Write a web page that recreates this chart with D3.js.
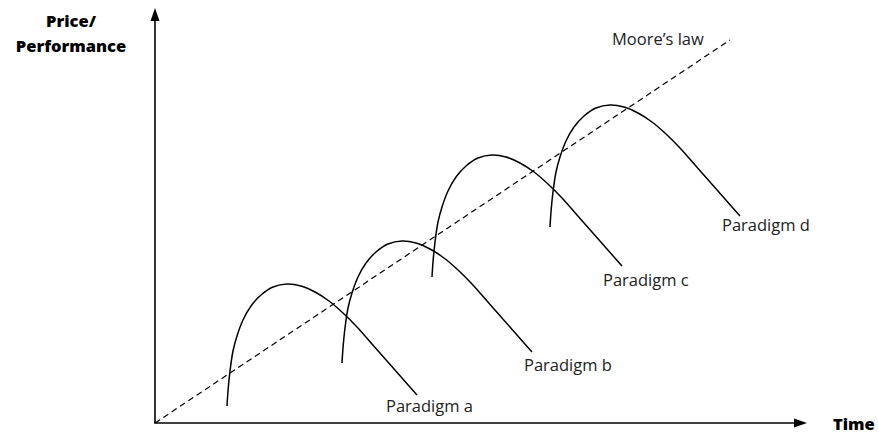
<!DOCTYPE html>
<html>
<head>
<meta charset="utf-8">
<script src="https://cdn.jsdelivr.net/npm/d3@7"></script>
<style>
  html, body { margin: 0; padding: 0; background: #fff; }
  svg { display: block; }
  text { font-family: "Open Sans", Lato, sans-serif; fill: #222; }
</style>
</head>
<body>
<svg id="chart" width="878" height="434"></svg>
<script>
// ---- data (arbitrary time / price-performance units) ----
const paradigmA = [[72,17],[73,32],[75,52],[78,72],[82,87],[88,103],[96,117],[106,128],[118,136],[132,139],[146,137],[160,131],[174,122],[188,110],[202,96],[217,79],[232,62],[247,45],[262,28]];
const paradigmB = [[187,60],[188,75],[190,95],[193,115],[197,130],[203,146],[211,160],[221,171],[233,179],[247,182],[261,180],[275,174],[289,165],[303,153],[317,139],[332,122],[347,105],[362,88],[377,71]];
const paradigmC = [[277,146],[278,161],[280,181],[283,201],[287,216],[293,232],[301,246],[311,257],[323,265],[337,268],[351,266],[365,260],[379,251],[393,239],[407,225],[422,208],[437,191],[452,174],[467,157]];
const paradigmD = [[395,196],[396,211],[398,231],[401,251],[405,266],[411,282],[419,296],[429,307],[441,315],[455,318],[469,316],[483,310],[497,301],[511,289],[525,275],[540,258],[555,241],[570,224],[585,207]];
const mooresLaw = [[0,0],[575,383]];

const paradigmNames = ["Paradigm a","Paradigm b","Paradigm c","Paradigm d"];
const paradigmLabelPos = [[231,11],[369,52],[448,137],[567,192]];
const mooreLabel = "Moore\u2019s law";
const mooreLabelPos = [457,378];
const yAxisTitle = ["Price/","Performance"];
const xAxisTitle = "Time";

// ---- layout ----
const svg = d3.select("#chart");
const x = d3.scaleLinear().domain([0, 650]).range([155, 805]);
const y = d3.scaleLinear().domain([0, 410]).range([423, 13]);

const line = d3.line().x(d => x(d[0])).y(d => y(d[1])).curve(d3.curveCatmullRom.alpha(0.5));

// axes
const axisG = svg.append("g");
axisG.append("line")
  .attr("x1", x(0)).attr("y1", y(0))
  .attr("x2", x(0)).attr("y2", y(410) + 8)
  .attr("stroke", "#000").attr("stroke-width", 1.6);
axisG.append("line")
  .attr("x1", x(0) - 0.8).attr("y1", y(0))
  .attr("x2", x(650) - 8).attr("y2", y(0))
  .attr("stroke", "#000").attr("stroke-width", 1.6);
// arrowheads
const tipY = [x(0), y(410) - 5];
axisG.append("path")
  .attr("d", `M${tipY[0]},${tipY[1]} L${tipY[0]-4.5},${tipY[1]+13} L${tipY[0]+4.5},${tipY[1]+13} Z`)
  .attr("fill", "#000");
const tipX = [x(650) + 2, y(0)];
axisG.append("path")
  .attr("d", `M${tipX[0]},${tipX[1]} L${tipX[0]-13},${tipX[1]-4.5} L${tipX[0]-13},${tipX[1]+4.5} Z`)
  .attr("fill", "#000");

// Moore's law
svg.append("path")
  .attr("d", d3.line().x(d => x(d[0])).y(d => y(d[1]))(mooresLaw))
  .attr("fill", "none").attr("stroke", "#000")
  .attr("stroke-width", 1.2).attr("stroke-dasharray", "6,4");

// paradigm curves
const curves = [paradigmA, paradigmB, paradigmC, paradigmD];
svg.append("g").selectAll("path").data(curves).join("path")
  .attr("d", line)
  .attr("fill", "none").attr("stroke", "#000").attr("stroke-width", 1.5);

// labels
svg.append("g").selectAll("text").data(paradigmNames).join("text")
  .attr("x", (d, i) => x(paradigmLabelPos[i][0]))
  .attr("y", (d, i) => y(paradigmLabelPos[i][1]))
  .attr("font-size", 16.5)
  .text(d => d);

svg.append("text")
  .attr("x", x(mooreLabelPos[0])).attr("y", y(mooreLabelPos[1]))
  .attr("font-size", 16.5)
  .text(mooreLabel);

svg.append("g").selectAll("text").data(yAxisTitle).join("text")
  .attr("x", 71)
  .attr("y", (d, i) => 27 + i * 25)
  .attr("text-anchor", "middle")
  .attr("font-size", 16.5).attr("font-weight", 800)
  .style("fill", "#000")
  .text(d => d);

svg.append("text")
  .attr("x", 833).attr("y", 430)
  .attr("font-size", 16.5).attr("font-weight", 800)
  .style("fill", "#000")
  .text(xAxisTitle);
</script>
</body>
</html>
